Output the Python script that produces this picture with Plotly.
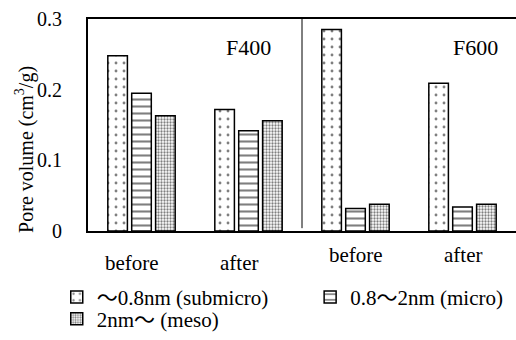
import plotly.graph_objects as go

groups = ["F400", "F400", "F600", "F600"]
stages = ["before", "after", "before", "after"]
categories = [f"{g} {s}" for g, s in zip(groups, stages)]

submicro = [0.248, 0.172, 0.285, 0.209]
micro = [0.195, 0.142, 0.032, 0.034]
meso = [0.163, 0.156, 0.038, 0.038]

series_names = ["～0.8nm (submicro)", "0.8～2nm (micro)", "2nm～ (meso)"]
y_ticks = [0, 0.1, 0.2, 0.3]
y_tick_text = ["0", "0.1", "0.2", "0.3"]

FONT = "Liberation Serif, Times New Roman, Noto Sans CJK JP, serif"

patterns = [
    dict(shape=".", size=8, solidity=0.1, fgcolor="black", bgcolor="white"),
    dict(shape="-", size=7, solidity=0.3, fgcolor="black", bgcolor="white"),
    dict(shape=".", size=3, solidity=0.45, fgcolor="black", bgcolor="white"),
]
# each series gets its own legend box so the entries can sit in a 2 + 1 layout
legend_ids = ["legend", "legend2", "legend3"]

fig = go.Figure()
for name, vals, pat, lg in zip(series_names, [submicro, micro, meso], patterns, legend_ids):
    fig.add_trace(go.Bar(
        x=categories, y=vals, name=name, legend=lg,
        marker=dict(color="white", line=dict(color="black", width=1.5), pattern=pat),
    ))

# group separator between F400 and F600
fig.add_shape(type="line", xref="x", yref="y", x0=1.5, x1=1.5, y0=0.004, y1=0.3,
              line=dict(color="black", width=1))

# stage labels under each group
for cat, st, g in zip(categories, stages, groups):
    left = g == "F400"
    fig.add_annotation(x=cat, xref="x", yref="paper",
                       y=-0.149 if left else -0.112,
                       xshift=-10 if left else 0,
                       text=st, showarrow=False, yanchor="middle",
                       font=dict(family=FONT, size=21, color="black"))

# group titles
fig.add_annotation(x=1.0, xref="x", y=0.259, yref="y", text="F400", showarrow=False,
                   xanchor="center", yanchor="middle",
                   font=dict(family=FONT, size=22, color="black"))
fig.add_annotation(x=3.12, xref="x", y=0.259, yref="y", text="F600", showarrow=False,
                   xanchor="center", yanchor="middle",
                   font=dict(family=FONT, size=22, color="black"))

# y-axis title
fig.add_annotation(x=-0.147, xref="paper", y=0.383, yref="paper",
                   text="Pore volume (cm<sup>3</sup>/g)", textangle=-90, showarrow=False,
                   xanchor="center", yanchor="middle",
                   font=dict(family=FONT, size=20, color="black"))

legend_style = dict(orientation="v", xanchor="left", yanchor="middle", itemwidth=30,
                    font=dict(family=FONT, size=21), bgcolor="rgba(0,0,0,0)",
                    borderwidth=0)

fig.update_layout(
    width=516, height=340,
    margin=dict(l=88, r=0, t=19, b=107),
    paper_bgcolor="white", plot_bgcolor="white",
    font=dict(family=FONT, size=20, color="black"),
    barmode="group", bargap=0.33, bargroupgap=0.18,
    showlegend=True,
    legend=dict(x=-0.073, y=-0.313, **legend_style),
    legend2=dict(x=0.519, y=-0.313, **legend_style),
    legend3=dict(x=-0.073, y=-0.416, **legend_style),
)
fig.update_xaxes(showticklabels=False, showline=True, linecolor="black", linewidth=2,
                 mirror=True, ticks="", showgrid=False, range=[-0.5, 3.5])
fig.update_yaxes(range=[0, 0.3], tickvals=y_ticks, ticktext=y_tick_text, showgrid=False,
                 showline=True, linecolor="black", linewidth=2, zeroline=False,
                 ticks="", ticklabelstandoff=20,
                 tickfont=dict(family=FONT, size=20))

fig.write_html("out.html")
